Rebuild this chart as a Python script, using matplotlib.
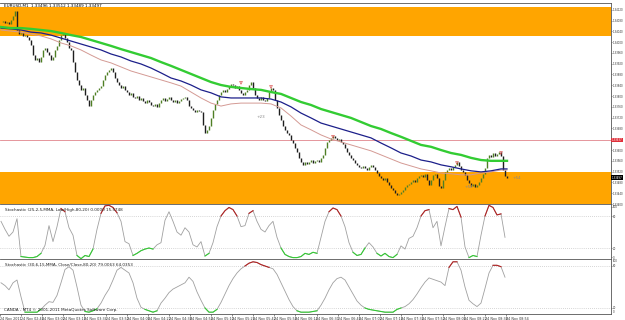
import numpy as np
import matplotlib
matplotlib.use("Agg")
import matplotlib.pyplot as plt

W, H = 625, 320

# EURUSD M1 closes, one per bar (price * 1e5)
closes = np.array([
    134074, 134078, 134071, 134074, 134067, 134082, 134097, 134115, 134045, 134030,
    134034, 134023, 134026, 134019, 134008, 133989, 133952, 133934, 133941, 133926,
    133945, 133971, 133978, 133963, 133952, 133934, 133945, 133971, 133986, 134008,
    134026, 134030, 134015, 134000, 133978, 133971, 133926, 133889, 133860, 133841,
    133823, 133830, 133804, 133786, 133763, 133786, 133804, 133815, 133823, 133830,
    133837, 133860, 133878, 133889, 133897, 133904, 133889, 133867, 133852, 133841,
    133830, 133837, 133823, 133815, 133804, 133812, 133797, 133793, 133800, 133786,
    133793, 133782, 133774, 133786, 133778, 133767, 133763, 133771, 133760, 133774,
    133786, 133793, 133782, 133789, 133797, 133786, 133778, 133786, 133774, 133782,
    133789, 133793, 133797, 133786, 133763, 133756, 133749, 133741, 133749, 133745,
    133741, 133693, 133663, 133675, 133689, 133719, 133749, 133771, 133786, 133804,
    133815, 133823, 133815, 133826, 133837, 133845, 133841, 133830, 133837, 133823,
    133812, 133804, 133815, 133823, 133841, 133852, 133830, 133804, 133793, 133786,
    133797, 133786, 133782, 133793, 133815, 133830, 133823, 133786, 133756, 133730,
    133712, 133689, 133675, 133663, 133656, 133637, 133626, 133608, 133593, 133571,
    133556, 133545, 133556, 133549, 133556, 133563, 133552, 133560, 133563, 133556,
    133571, 133582, 133608, 133630, 133637, 133645, 133652, 133645, 133637, 133641,
    133630, 133623, 133608, 133593, 133582, 133571, 133563, 133552, 133545, 133538,
    133534, 133541, 133534, 133526, 133538, 133545, 133538, 133526, 133515, 133504,
    133497, 133489, 133497, 133482, 133471, 133460, 133452, 133441, 133434, 133437,
    133445, 133452, 133463, 133471, 133474, 133482, 133489, 133482, 133497, 133504,
    133508, 133500, 133512, 133489, 133471, 133489, 133508, 133512, 133497, 133467,
    133460, 133489, 133519, 133526, 133534, 133526, 133538, 133545, 133556, 133541,
    133526, 133519, 133508, 133489, 133478, 133467, 133474, 133463, 133471, 133482,
    133497, 133512, 133534, 133571, 133582, 133575, 133589, 133578, 133586, 133593,
    133578, 133526, 133504, 133497]) / 1e5

# moving averages, read every 5 bars (+ last bar)
ma_bars = np.r_[0:251:5, 253]
ma_green = np.array([
    134056, 134052, 134052, 134049, 134045, 134041, 134034, 134026, 134019, 134008,
    133997, 133986, 133974, 133963, 133952, 133941, 133926, 133912, 133897, 133882,
    133867, 133852, 133841, 133834, 133830, 133826, 133823, 133815, 133808, 133793,
    133778, 133767, 133752, 133741, 133730, 133719, 133704, 133689, 133678, 133663,
    133649, 133634, 133619, 133612, 133600, 133589, 133582, 133571, 133563, 133560,
    133560, 133560]) / 1e5
ma_blue = np.array([
    134052, 134049, 134045, 134037, 134034, 134026, 134015, 134004, 133993, 133982,
    133971, 133956, 133945, 133930, 133919, 133904, 133886, 133867, 133856, 133841,
    133823, 133812, 133797, 133793, 133793, 133793, 133793, 133789, 133778, 133760,
    133737, 133719, 133700, 133689, 133678, 133667, 133656, 133645, 133626, 133608,
    133589, 133578, 133563, 133556, 133545, 133538, 133530, 133523, 133519, 133523,
    133530, 133530]) / 1e5
ma_pink = np.array([
    134045, 134041, 134037, 134030, 134023, 134012, 133997, 133986, 133971, 133952,
    133934, 133923, 133908, 133893, 133882, 133871, 133860, 133849, 133837, 133815,
    133793, 133774, 133763, 133771, 133774, 133774, 133774, 133771, 133756, 133726,
    133693, 133675, 133656, 133641, 133630, 133619, 133608, 133597, 133582, 133567,
    133552, 133541, 133530, 133523, 133515, 133512, 133508, 133508, 133515, 133519,
    133526, 133526]) / 1e5

# stochastics, read every 2 bars
osc_bars = np.arange(0, 253, 2)
stoch1 = np.array([
    70, 55, 42, 50, 75, 4, 3, 2, 2, 4, 10, 25, 62, 32, 60, 94, 88, 58, 44, 6,
    0, 6, 4, 18, 55, 85, 99, 100, 96, 86, 70, 32, 28, 6, 10, 15, 18, 20, 18, 26,
    30, 72, 88, 70, 50, 44, 58, 50, 26, 22, 32, 5, 10, 30, 60, 80, 90, 96, 92, 80,
    60, 62, 85, 90, 70, 55, 50, 62, 70, 40, 20, 8, 4, 2, 2, 4, 10, 8, 12, 10,
    40, 70, 88, 95, 92, 80, 60, 30, 12, 6, 8, 20, 30, 22, 10, 5, 10, 4, 2, 8,
    24, 18, 38, 42, 58, 80, 90, 92, 58, 70, 24, 60, 94, 92, 98, 78, 22, 2, 6, 4,
    44, 80, 100, 96, 82, 84, 40])
stoch2 = np.array([
    56, 52, 46, 56, 60, 36, 14, 14, 14, 14, 18, 24, 29, 28, 38, 56, 75, 79, 74, 50,
    24, 15, 14, 16, 19, 27, 38, 47, 60, 74, 78, 74, 70, 56, 34, 21, 18, 16, 14, 16,
    27, 34, 42, 47, 50, 53, 56, 64, 58, 43, 31, 20, 14, 14, 18, 28, 40, 52, 62, 70,
    76, 80, 84, 86, 85, 82, 80, 78, 76, 68, 56, 44, 32, 22, 16, 14, 14, 14, 15, 16,
    24, 34, 46, 56, 62, 64, 60, 50, 40, 30, 24, 20, 18, 17, 16, 15, 14, 14, 14, 18,
    20, 22, 26, 32, 40, 49, 57, 63, 61, 59, 57, 52, 78, 86, 86, 74, 50, 31, 26, 22,
    27, 48, 70, 81, 81, 79, 64])

zone_top = (1.34023, 1.34130)
zone_bottom = (1.33300, 1.33519)
level_line = 1.33637
last_price = 1.33497
price_ticks = [1.34120 - 0.0004 * i for i in range(19)]
time_labels = ["24 Nov 2011", "24 Nov 02:46", "24 Nov 03:02", "24 Nov 03:18", "24 Nov 03:34",
               "24 Nov 03:50", "24 Nov 04:06", "24 Nov 04:22", "24 Nov 04:38", "24 Nov 04:54",
               "24 Nov 05:10", "24 Nov 05:26", "24 Nov 05:42", "24 Nov 05:58", "24 Nov 06:14",
               "24 Nov 06:30", "24 Nov 06:46", "24 Nov 07:02", "24 Nov 07:18", "24 Nov 07:34",
               "24 Nov 07:50", "24 Nov 08:06", "24 Nov 08:22", "24 Nov 08:38", "24 Nov 08:54"]
arrow_bars = [120, 135, 166, 228, 250]
arrow_prices = [1.33849, 1.33834, 1.33649, 1.33552, 1.33589]
pips_text = [("+23", 128, 1.33723), ("+54", 232, 1.33463), ("+54", 256, 1.33497)]

FS = 3.0    # in-chart texts
AFS = 1.9   # axis labels
fig = plt.figure(figsize=(W / 100, H / 100), dpi=100)
fig.patch.set_facecolor("white")

def panel(y0, y1, x0=0, x1=611):
    a = fig.add_axes([x0 / W, 1 - y1 / H, (x1 - x0) / W, (y1 - y0) / H])
    a.set_xlim(-0.5, 305)
    a.yaxis.tick_right()
    a.tick_params(axis="y", labelsize=AFS, length=1.0, width=0.4, pad=0.4, colors="#333333")
    a.tick_params(axis="x", bottom=False, labelbottom=False)
    for s in a.spines.values():
        s.set_color("#555555"); s.set_linewidth(0.6)
    a.spines["left"].set_visible(False)
    return a

# ---- main price panel
ax = panel(3, 204)
ax.set_ylim(1.33400, 1.34145)
ax.axhspan(*zone_top, color="#ffa500", lw=0, zorder=0)
ax.axhspan(*zone_bottom, color="#ffa500", lw=0, zorder=0)
ax.axhline(level_line, color="#e0848c", lw=0.6, zorder=1)

bars = np.arange(len(closes))
opens = np.r_[closes[0], closes[:-1]]
up = closes >= opens
ax.vlines(bars[up], opens[up], closes[up], color="#4f7f24", lw=1.0, zorder=3)
ax.vlines(bars[~up], closes[~up], opens[~up], color="#1e1e1e", lw=1.0, zorder=3)

ax.plot(ma_bars, ma_pink, color="#d49a94", lw=0.7, zorder=4)
ax.plot(ma_bars, ma_blue, color="#1c1f8a", lw=0.9, zorder=4)
ax.plot(ma_bars, ma_green, color="#33cc33", lw=1.7, zorder=4)

ax.scatter(arrow_bars, arrow_prices, marker="v", s=4, facecolor="none", edgecolor="#d23030", lw=0.4, zorder=5)
for t, b, p in pips_text:
    ax.text(b, p, t, fontsize=FS, color="#888888", va="center", ha="left", zorder=5)

ax.set_yticks(price_ticks)
ax.set_yticklabels([f"{v:.5f}" for v in price_ticks])
for val, fc in ((level_line, "#e0303a"), (last_price, "black")):
    ax.annotate(f"{val:.5f}", xy=(1, val), xycoords=("axes fraction", "data"), xytext=(0.5, 0),
                textcoords="offset points", fontsize=AFS, color="white", va="center", ha="left",
                bbox=dict(boxstyle="square,pad=0.15", fc=fc, ec="none"), annotation_clip=False, zorder=6)
ax.text(0.006, 0.995, "EURUSD,M1  1.33496 1.33512 1.33489 1.33497", transform=ax.transAxes,
        fontsize=FS, va="top", ha="left", color="black")

# ---- oscillators
def osc(a, vals, lo, hi):
    a.axhline(80, color="#b0b0b0", lw=0.5, ls=(0, (1, 2)))
    a.axhline(20, color="#b0b0b0", lw=0.5, ls=(0, (1, 2)))
    a.plot(osc_bars, vals, color="#a0a0a0", lw=0.6)
    a.plot(osc_bars, np.where(vals >= hi, vals, np.nan), color="#b22222", lw=0.8)
    a.plot(osc_bars, np.where(vals <= lo, vals, np.nan), color="#33cc33", lw=0.8)

ax1 = panel(204, 259)
ax1.set_ylim(-0.6, 102.5)
osc(ax1, stoch1, 20, 78)
ax1.set_yticks([97, 80, 20, 3])
ax1.set_yticklabels(["100", "80", "20", "0"])
ax1.text(0.008, 0.93, "Stochastic (25,2,5,MMA, Low/High,80,20) 0.0000 15.5748", transform=ax1.transAxes,
         fontsize=FS, va="top", color="#222222")

ax2 = panel(259, 314)
ax2.set_ylim(11.4, 90)
osc(ax2, stoch2, 20, 78)
ax2.set_yticks([80, 20])
ax2.text(1.003, 0.955, "100", transform=ax2.transAxes, fontsize=AFS, va="center", color="#333333")
ax2.text(1.003, 0.03, "0", transform=ax2.transAxes, fontsize=AFS, va="center", color="#333333")
ax2.text(0.008, 0.93, "Stochastic (30,6,15,MMA, Close/Close,80,20) 79.0063 64.0353", transform=ax2.transAxes,
         fontsize=FS, va="top", color="#222222")
ax2.text(0.006, 0.03, "CANDA - MT4 \u00a9 2001-2011 MetaQuotes Software Corp.", transform=ax2.transAxes,
         fontsize=FS, va="bottom", color="#222222")

tick_pos = np.arange(len(time_labels)) * 10.55 - 0.5
ax2.tick_params(axis="x", bottom=True, labelbottom=True, labelsize=2.4, length=1.2, width=0.4, pad=0.6,
                colors="#333333")
ax2.set_xticks(tick_pos)
ax2.set_xticklabels(time_labels, ha="left")

fig.savefig("out.png", dpi=100, facecolor="white")
